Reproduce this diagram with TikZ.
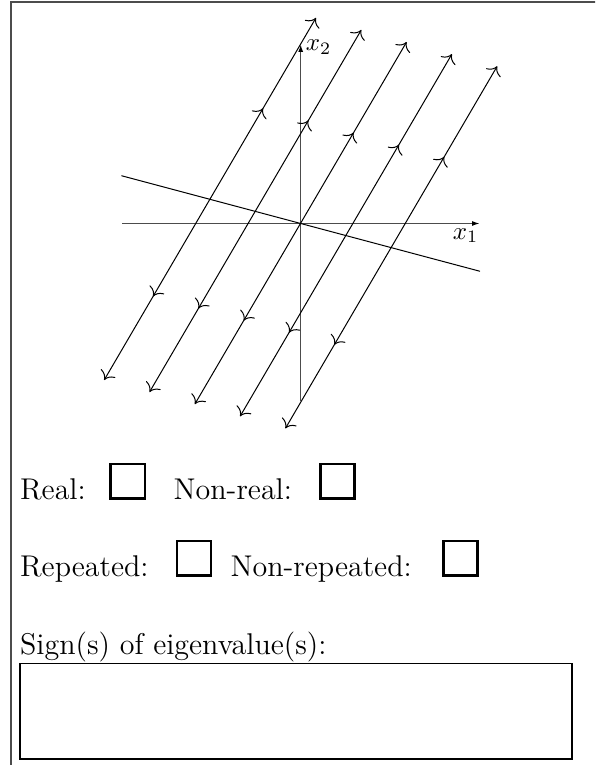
\documentclass[tikz,border=0pt]{standalone}
\usetikzlibrary{arrows.meta,decorations.markings}
\begin{document}
\begin{tikzpicture}[x=0.4pt,y=-0.4pt,>={To[scale=1.3]},
  traj/.style={line width=0.4pt,<->,postaction={decorate},
    decoration={markings,
      mark=at position 0.25 with {\arrow{<}},
      mark=at position 0.75 with {\arrow{>}}}},
  axis/.style={line width=0.45pt,black!70,-{Latex[length=3pt,width=2pt,black]}},
  eqline/.style={line width=0.4pt},
  lbl/.style={inner sep=0pt,font=\fontsize{10}{12}\selectfont},
  txt/.style={inner sep=0pt,anchor=base west,font=\fontsize{12}{14.4}\selectfont},
  chk/.style={draw,line width=1pt,minimum size=13.7pt,inner sep=0pt},
  frame/.style={line width=0.7pt,black!70}]
\useasboundingbox (0,0) rectangle (595,765);
\clip (0,0) rectangle (595,765);
% outer frame (only left and top edges visible)
\draw[frame] (11.2,800) -- (11.2,2.3) -- (620,2.3);
% axes
\coordinate (O) at (300.7,223.5);
\coordinate (xs) at (122,223.5);
\coordinate (xe) at (479.5,223.5);
\coordinate (ys) at (300.7,400.5);
\coordinate (ye) at (300.7,44.5);
\draw[axis] (xs) -- (xe);
\draw[axis] (ys) -- (ye);
\node[lbl,anchor=base west] (x1) at (452.3,239) {$x_1$};
\node[lbl,anchor=base west] (x2) at (305.3,50.5) {$x_2$};
% line of equilibria
\coordinate (e1) at (121.4,175.7);
\coordinate (e2) at (480,271.3);
\draw[eqline] (e1) -- (e2);
% trajectories
\foreach \k [evaluate=\k as \dx using (\k-3)*45.3,
             evaluate=\k as \dy using (\k-3)*12.1] in {1,...,5}{
  \coordinate (B\k) at ({300.7+\dx-105.9},{223.5+\dy+180.7});
  \coordinate (T\k) at ({300.7+\dx+105.9},{223.5+\dy-181.5});
  \draw[traj] (B\k) -- (T\k);
}
% questions
\node[txt] (real) at (19.6,499.5) {Real:};
\node[chk] (c1) at (127.7,481.3) {};
\node[txt] (nreal) at (173.2,499.5) {Non-real:};
\node[chk] (c2) at (337.4,481.3) {};
\node[txt] (rep) at (19.6,576) {Repeated:};
\node[chk] (c3) at (193.9,558.3) {};
\node[txt] (nrep) at (230.1,576) {Non-repeated:};
\node[chk] (c4) at (460.5,558.3) {};
\node[txt] (sign) at (19.6,654) {Sign(s) of eigenvalue(s):};
\node[draw,line width=0.45pt,inner sep=0pt,minimum width=220.8pt,minimum height=38.2pt] (ans) at (296,711.3) {};
\end{tikzpicture}
\end{document}
